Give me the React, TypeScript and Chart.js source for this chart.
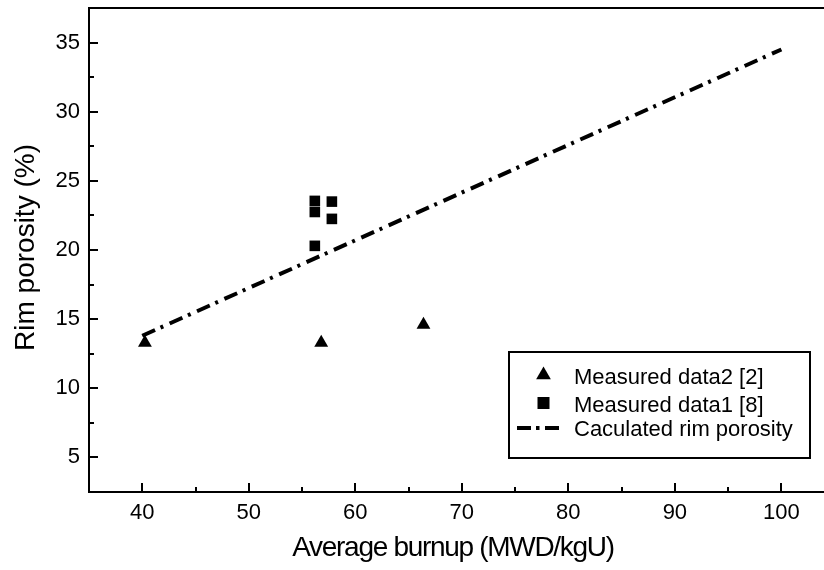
import { useEffect, useRef } from "react";
import { Chart, registerables } from "chart.js";

Chart.register(...registerables);

// ---- data ----
const xTicks = [40, 50, 60, 70, 80, 90, 100];
const xMinorTicks = [45, 55, 65, 75, 85, 95];
const yTicks = [5, 10, 15, 20, 25, 30, 35];
const yMinorTicks = [7.5, 12.5, 17.5, 22.5, 27.5, 32.5];

const data2X = [40.25, 56.8, 66.4];
const data2Y = [13.3, 13.3, 14.6];

const data1X = [56.2, 56.2, 57.8, 57.8, 56.2];
const data1Y = [23.55, 22.75, 23.5, 22.25, 20.3];

const calcX = [40, 100];
const calcY = [13.8, 34.5];

const legendLabels = ["Measured data2 [2]", "Measured data1 [8]", "Caculated rim porosity"];
const xTitle = "Average burnup (MWD/kgU)";
const yTitle = "Rim porosity (%)";

const FONT = '"Liberation Sans", Arial, Helvetica, sans-serif';

const decorPlugin = {
  id: "decor",
  afterDatasetsDraw(chart: any) {
    const { ctx, chartArea: a, scales } = chart;
    const xs = scales.x;
    const ys = scales.y;
    ctx.save();
    ctx.strokeStyle = "#000";
    ctx.fillStyle = "#000";
    ctx.lineCap = "butt";
    ctx.setLineDash([]);

    // top frame line
    ctx.lineWidth = 2;
    ctx.beginPath();
    ctx.moveTo(a.left, a.top);
    ctx.lineTo(a.right, a.top);
    ctx.stroke();

    // inward ticks
    ctx.lineWidth = 2;
    const drawX = (vals: number[], len: number) => {
      for (const v of vals) {
        const px = Math.round(xs.getPixelForValue(v));
        ctx.beginPath();
        ctx.moveTo(px, a.bottom);
        ctx.lineTo(px, a.bottom - len);
        ctx.stroke();
      }
    };
    const drawY = (vals: number[], len: number) => {
      for (const v of vals) {
        const py = Math.round(ys.getPixelForValue(v));
        ctx.beginPath();
        ctx.moveTo(a.left, py);
        ctx.lineTo(a.left + len, py);
        ctx.stroke();
      }
    };
    drawX(xTicks, 9);
    drawX(xMinorTicks, 5);
    drawY(yTicks, 9);
    drawY(yMinorTicks, 5);

    // legend box
    const bx = 509, by = 352, bw = 301, bh = 106;
    ctx.lineWidth = 2;
    ctx.fillStyle = "#fff";
    ctx.fillRect(bx, by, bw, bh);
    ctx.strokeRect(bx, by, bw, bh);
    ctx.fillStyle = "#000";

    const mx = 543.5;
    // triangle
    const tr = 8.5;
    const ty = 375;
    ctx.beginPath();
    ctx.moveTo(mx, ty - tr);
    ctx.lineTo(mx + tr * 0.866, ty + tr * 0.5);
    ctx.lineTo(mx - tr * 0.866, ty + tr * 0.5);
    ctx.closePath();
    ctx.fill();
    // square
    ctx.fillRect(mx - 6, 397, 12, 12);
    // dash-dot
    ctx.lineWidth = 4;
    ctx.beginPath();
    ctx.moveTo(517, 428);
    ctx.lineTo(531, 428);
    ctx.moveTo(536, 428);
    ctx.lineTo(539.5, 428);
    ctx.moveTo(545, 428);
    ctx.lineTo(559, 428);
    ctx.stroke();

    ctx.font = "22px " + FONT;
    ctx.textAlign = "left";
    ctx.textBaseline = "alphabetic";
    ctx.fillText(legendLabels[0], 574, 384);
    ctx.fillText(legendLabels[1], 574, 411.5);
    ctx.fillText(legendLabels[2], 574, 436);

    // axis titles
    ctx.font = "28px " + FONT;
    ctx.textAlign = "center";
    (ctx as any).letterSpacing = "-1.3px";
    ctx.fillText(xTitle, 453, 556);
    (ctx as any).letterSpacing = "0px";
    ctx.translate(33.5, 247.5);
    ctx.rotate(-Math.PI / 2);
    ctx.fillText(yTitle, 0, 0);
    ctx.restore();
  },
};

export default function App() {
  const ref = useRef<HTMLCanvasElement | null>(null);

  useEffect(() => {
    if (!ref.current) return;
    const chart = new Chart(ref.current, {
      type: "scatter",
      data: {
        datasets: [
          {
            label: legendLabels[2],
            data: calcX.map((x, i) => ({ x, y: calcY[i] })),
            showLine: true,
            borderColor: "#000",
            borderWidth: 4,
            borderDash: [14, 6, 3, 7],
            pointRadius: 0,
            fill: false,
          },
          {
            label: legendLabels[0],
            data: data2X.map((x, i) => ({ x, y: data2Y[i] })),
            pointStyle: "triangle",
            pointRadius: 8,
            backgroundColor: "#000",
            borderColor: "#000",
            borderWidth: 0,
          },
          {
            label: legendLabels[1],
            data: data1X.map((x, i) => ({ x, y: data1Y[i] })),
            pointStyle: "rect",
            pointRadius: 7.5,
            backgroundColor: "#000",
            borderColor: "#000",
            borderWidth: 0,
          },
        ],
      },
      options: {
        animation: false,
        responsive: true,
        maintainAspectRatio: false,
        events: [],
        layout: { autoPadding: false, padding: { top: 8, right: 0, left: 0, bottom: 0 } },
        plugins: {
          legend: { display: false },
          tooltip: { enabled: false },
        },
        scales: {
          x: {
            type: "linear",
            min: 35,
            max: 104,
            grid: { display: false, drawTicks: false },
            border: { display: true, color: "#000", width: 2 },
            afterBuildTicks: (s: any) => {
              s.ticks = xTicks.map((v) => ({ value: v }));
            },
            afterFit: (s: any) => {
              s.height = 78;
              s.paddingLeft = 0;
              s.paddingRight = 0;
            },
            ticks: {
              color: "#000",
              padding: 8,
              font: { family: FONT, size: 22 },
              maxRotation: 0,
              autoSkip: false,
            },
          },
          y: {
            type: "linear",
            min: 2.5,
            max: 37.5,
            grid: { display: false, drawTicks: false },
            border: { display: true, color: "#000", width: 2 },
            afterBuildTicks: (s: any) => {
              s.ticks = yTicks.map((v) => ({ value: v }));
            },
            afterFit: (s: any) => {
              s.width = 89;
              s.paddingTop = 0;
              s.paddingBottom = 0;
            },
            ticks: {
              color: "#000",
              padding: 9,
              font: { family: FONT, size: 22 },
              autoSkip: false,
            },
          },
        },
      },
      plugins: [decorPlugin],
    });
    return () => chart.destroy();
  }, []);

  return (
    <div style={{ position: "fixed", left: 0, top: 0, width: 824, height: 570, background: "#fff" }}>
      <canvas ref={ref} />
    </div>
  );
}
